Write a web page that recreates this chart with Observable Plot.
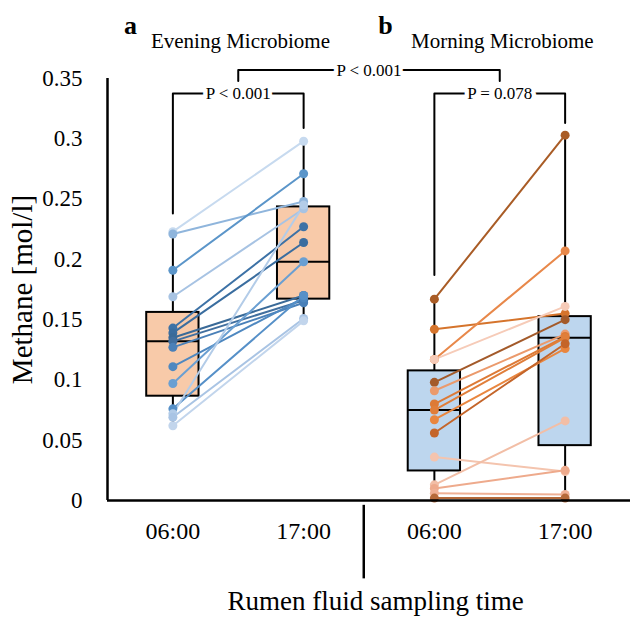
<!DOCTYPE html>
<html>
<head>
<meta charset="utf-8">
<script src="https://cdn.jsdelivr.net/npm/d3@7"></script>
<script src="https://cdn.jsdelivr.net/npm/@observablehq/plot@0.6"></script>
<style>
  html, body { margin: 0; padding: 0; background: #fff; }
  #chart svg { display: block; }
</style>
</head>
<body>
<div id="chart"></div>
<script>
// ---- data ----
const timeLabels = ["06:00", "17:00", "06:00", "17:00"];
const panelLetters = ["a", "b"];
const panelTitles = ["Evening Microbiome", "Morning Microbiome"];
const yTicks = [0, 0.05, 0.1, 0.15, 0.2, 0.25, 0.3, 0.35];
const yTickLabels = ["0", "0.05", "0.1", "0.15", "0.2", "0.25", "0.3", "0.35"];
const pLabels = ["P < 0.001", "P < 0.001", "P = 0.078"];

// Evening microbiome: paired animals 06:00 -> 17:00
const eveningAM = [0.223, 0.221, 0.191, 0.169, 0.143, 0.139, 0.135, 0.132, 0.127, 0.111, 0.097, 0.076, 0.072, 0.069, 0.062];
const eveningPM = [0.298, 0.248, 0.271, 0.242, 0.227, 0.214, 0.170, 0.166, 0.164, 0.168, 0.198, 0.170, 0.245, 0.151, 0.149];
const eveningColors = ["#c7daef", "#8fb5dc", "#5b95c9", "#a7c3e3", "#3d72a6", "#3a6d9f", "#3a6a98", "#416f9f", "#4a80b8", "#4f88c0", "#6a9fd2", "#5690c8", "#b3cce8", "#a9c4e4", "#c2d5ec"];

// Morning microbiome
const morningAM = [0.167, 0.142, 0.117, 0.117, 0.098, 0.091, 0.080, 0.075, 0.067, 0.056, 0.036, 0.013, 0.010, 0.006, 0.002];
const morningPM = [0.303, 0.155, 0.207, 0.161, 0.150, 0.138, 0.136, 0.135, 0.126, 0.130, 0.024, 0.066, 0.025, 0.005, 0.002];
const morningColors = ["#a95c26", "#d5742c", "#e8884a", "#f6cbb8", "#a35a2a", "#eb9a6c", "#dd7a36", "#e07e3a", "#e9863f", "#c4652a", "#f4c4ae", "#f2bea6", "#eeaa8c", "#efb095", "#b66a3a"];

const boxFills = ["#f8caa9", "#bdd6ee"];

// ---- build tables ----
const rows = [];
function addPairs(am, pm, colors, g) {
  am.forEach((v, i) => {
    rows.push({id: g + "-" + i, pos: 2 * g + 1, value: v, color: colors[i]});
    rows.push({id: g + "-" + i, pos: 2 * g + 2, value: pm[i], color: colors[i]});
  });
}
addPairs(eveningAM, eveningPM, eveningColors, 0);
addPairs(morningAM, morningPM, morningColors, 1);

const seriesList = [eveningAM, eveningPM, morningAM, morningPM];
const boxes = seriesList.map((s, i) => {
  const v = s.slice().sort(d3.ascending);
  return {
    pos: i + 1,
    min: d3.min(v), max: d3.max(v),
    q1: d3.quantile(v, 0.25), median: d3.quantile(v, 0.5), q3: d3.quantile(v, 0.75),
    fill: boxFills[Math.floor(i / 2)]
  };
});
const halfBox = 0.2;

// brackets: [x, y] paths
const brackets = [
  {id: "a", pts: [[1, 0.238], [1, 0.3375], [2, 0.3375], [2, 0.309]]},
  {id: "top", pts: [[1.5, 0.348], [1.5, 0.357], [3.5, 0.357], [3.5, 0.348]]},
  {id: "b", pts: [[3, 0.187], [3, 0.3375], [4, 0.3375], [4, 0.313]]}
];
const bracketPts = brackets.flatMap(b => b.pts.map(p => ({id: b.id, x: p[0], y: p[1]})));
const pText = [
  {x: 1.5, y: 0.3375, t: pLabels[0]},
  {x: 2.5, y: 0.357, t: pLabels[1]},
  {x: 3.5, y: 0.3375, t: pLabels[2]}
];

const tickMap = new Map(yTicks.map((t, i) => [t, yTickLabels[i]]));
const font = "'Liberation Serif', 'Times New Roman', serif";

const chart = Plot.plot({
  width: 630,
  height: 617,
  marginLeft: 107,
  marginRight: 0,
  marginTop: 78,
  marginBottom: 117,
  x: {domain: [0.5, 4.5], axis: null},
  y: {domain: [0, 0.35], axis: null},
  color: {type: "identity"},
  style: {fontFamily: font, color: "#000", background: "#fff"},
  marks: [
    // whiskers
    Plot.ruleX(boxes, {x: "pos", y1: "min", y2: "max", stroke: "#000", strokeWidth: 2}),
    // boxes
    Plot.rect(boxes, {x1: d => d.pos - halfBox, x2: d => d.pos + halfBox, y1: "q1", y2: "q3", fill: "fill", stroke: "#000", strokeWidth: 2}),
    Plot.ruleY(boxes, {y: "median", x1: d => d.pos - halfBox, x2: d => d.pos + halfBox, stroke: "#000", strokeWidth: 2}),
    // paired lines
    Plot.line(rows, {x: "pos", y: "value", z: "id", stroke: "color", strokeWidth: 2}),
    Plot.dot(rows, {x: "pos", y: "value", fill: "color", r: 4.5}),
    // axes lines
    Plot.ruleX([0.5], {y1: 0, y2: 0.35, stroke: "#000", strokeWidth: 2.5}),
    Plot.ruleY([0], {x1: 0.5, x2: 4.5, stroke: "#000", strokeWidth: 2.5}),
    // y tick labels
    Plot.axisY({ticks: yTicks, tickFormat: d => tickMap.get(d), tickSize: 0, tickPadding: 25, fontSize: 23, label: null}),
    // y axis label
    Plot.text(["Methane [mol/l]"], {frameAnchor: "left", textAnchor: "middle", dx: -85, rotate: -90, fontSize: 29}),
    // x tick labels
    Plot.text(timeLabels, {x: (d, i) => i + 1, y: 0, dy: 31, fontSize: 24}),
    // divider
    Plot.ruleX([2.46], {y1: -0.004, y2: -0.065, stroke: "#000", strokeWidth: 2.5}),
    // x axis title
    Plot.text(["Rumen fluid sampling time"], {x: 2.55, y: 0, dy: 101, fontSize: 27}),
    // panel letters and titles
    Plot.text(panelLetters, {x: (d, i) => [0.676, 2.626][i], frameAnchor: "top", dy: -63, fontSize: 26, fontWeight: "bold"}),
    Plot.text(panelTitles, {x: (d, i) => [1.517, 3.52][i], frameAnchor: "top", dy: -45, fontSize: 21}),
    // brackets
    Plot.line(bracketPts, {x: "x", y: "y", z: "id", stroke: "#000", strokeWidth: 2}),
    Plot.text(pText, {x: "x", y: "y", text: "t", fontSize: 17, stroke: "#fff", strokeWidth: 9, fill: "#000"})
  ]
});
document.getElementById("chart").appendChild(chart);
</script>
</body>
</html>
